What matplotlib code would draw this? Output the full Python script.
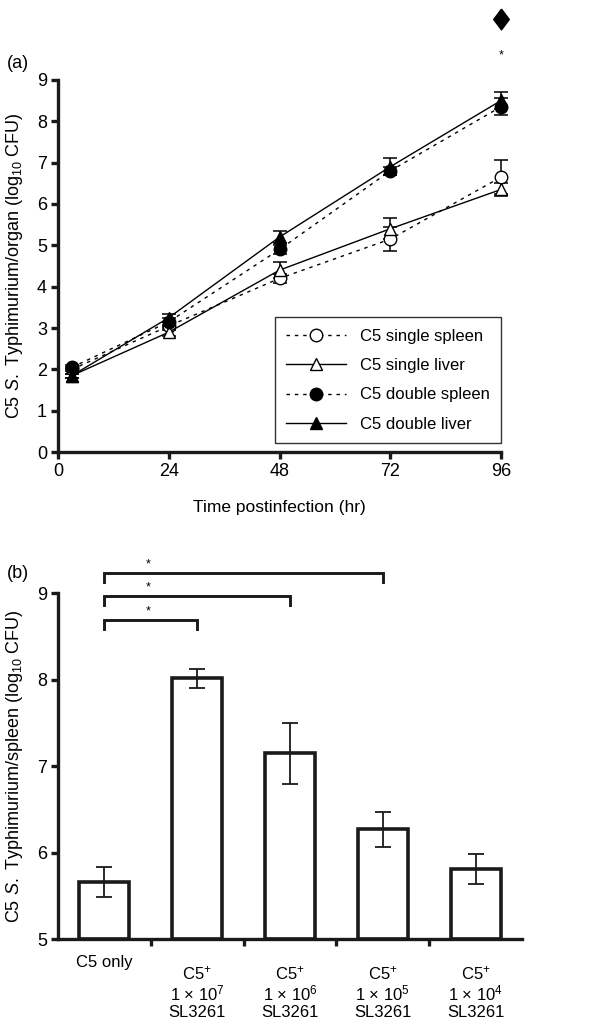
import numpy as np
import matplotlib.pyplot as plt
from matplotlib.transforms import blended_transform_factory

plt.rcParams['font.family'] = ['Liberation Sans', 'DejaVu Sans']
plt.rcParams['mathtext.fontset'] = 'custom'
plt.rcParams['mathtext.rm'] = 'Liberation Sans'
plt.rcParams['mathtext.it'] = 'Liberation Sans:italic'

# panel (a) data
hours = [3, 24, 48, 72, 96]
single_spleen = [2.0, 3.05, 4.2, 5.15, 6.65]
single_spleen_err = [0.05, 0.1, 0.1, 0.3, 0.4]
single_liver = [1.85, 2.9, 4.4, 5.4, 6.35]
single_liver_err = [0.05, 0.1, 0.2, 0.25, 0.15]
double_spleen = [2.05, 3.15, 4.9, 6.8, 8.35]
double_spleen_err = [0.05, 0.1, 0.1, 0.1, 0.2]
double_liver = [1.85, 3.25, 5.2, 6.9, 8.5]
double_liver_err = [0.05, 0.1, 0.15, 0.2, 0.2]

# panel (b) data
groups = ['C5 only',
          'C5$^{+}$\n1 $\\times$ 10$^{7}$\nSL3261',
          'C5$^{+}$\n1 $\\times$ 10$^{6}$\nSL3261',
          'C5$^{+}$\n1 $\\times$ 10$^{5}$\nSL3261',
          'C5$^{+}$\n1 $\\times$ 10$^{4}$\nSL3261']
spleen_cfu = [5.66, 8.02, 7.15, 6.27, 5.81]
spleen_err = [0.17, 0.11, 0.35, 0.2, 0.17]
brackets = [(0, 1, 8.69), (0, 2, 8.97), (0, 3, 9.23)]

fig = plt.figure(figsize=(5.98, 10.23), dpi=100)

# ---------- (a) ----------
ax1 = fig.add_axes([0.097, 0.558, 0.741, 0.364])
dot = (0, (2.5, 3.5))
series = [
    (single_spleen, single_spleen_err, 'o', 'white', dot, 'C5 single spleen'),
    (single_liver, single_liver_err, '^', 'white', '-', 'C5 single liver'),
    (double_spleen, double_spleen_err, 'o', 'black', dot, 'C5 double spleen'),
    (double_liver, double_liver_err, '^', 'black', '-', 'C5 double liver'),
]
for vals, err, m, fc, ls, lab in series:
    ax1.errorbar(hours, vals, yerr=err, fmt='none', ecolor='black',
                 elinewidth=1.1, capsize=5, capthick=1.1, clip_on=False, zorder=2)
    ax1.plot(hours, vals, color='black', linestyle=ls, linewidth=1.0,
             marker=m, markersize=9, markerfacecolor=fc, markeredgecolor='black',
             markeredgewidth=1.0, label=lab, clip_on=False, zorder=3)

diamond = [(0, 1), (0.75, 0), (0, -1), (-0.75, 0), (0, 1)]
ax1.plot([96], [10.46], marker=diamond, markersize=15, color='black',
         linestyle='none', clip_on=False)
ax1.text(96, 9.6, '*', ha='center', va='center', fontsize=9)

ax1.set_xlim(0, 96)
ax1.set_ylim(0, 9)
ax1.set_xticks([0, 24, 48, 72, 96])
ax1.set_yticks(range(10))
ax1.set_xlabel('Time postinfection (hr)', fontsize=12.5, labelpad=14)
ax1.set_ylabel('C5 $\\it{S.}$ Typhimurium/organ (log$_{10}$ CFU)', fontsize=13)
ax1.yaxis.set_label_coords(-0.074, 0.5)
ax1.text(-0.09, 1.045, '(a)', transform=ax1.transAxes, fontsize=13,
         ha='center', va='center')
leg = ax1.legend(loc='lower right', bbox_to_anchor=(1.0, 0.024), fontsize=12,
                 handlelength=3.6, labelspacing=0.85, borderaxespad=0,
                 fancybox=False, edgecolor='black', borderpad=0.7)
leg.get_frame().set_linewidth(1.0)

# ---------- (b) ----------
ax2 = fig.add_axes([0.097, 0.082, 0.776, 0.338])
x = np.arange(len(groups))
ax2.bar(x, [v - 5 for v in spleen_cfu], bottom=5, width=0.54, color='white',
        edgecolor='#1a1a1a', linewidth=2.6, zorder=2)
ax2.errorbar(x, spleen_cfu, yerr=spleen_err, fmt='none', ecolor='#1a1a1a',
             elinewidth=1.3, capsize=6, capthick=1.3, zorder=3)

for a, b, yb in brackets:
    ax2.plot([a, a, b, b], [yb - 0.1, yb, yb, yb - 0.1], color='#1a1a1a',
             linewidth=2.1, clip_on=False, solid_joinstyle='miter')
    ax2.text(0.47, yb + 0.1, '*', ha='center', va='center', fontsize=9)

ax2.set_xlim(-0.5, 4.5)
ax2.set_ylim(5, 9)
ax2.set_yticks([5, 6, 7, 8, 9])
ax2.set_xticks([0.5, 1.5, 2.5, 3.5])
ax2.set_xticklabels([])
ax2.set_ylabel('C5 $\\it{S.}$ Typhimurium/spleen (log$_{10}$ CFU)', fontsize=13)
ax2.yaxis.set_label_coords(-0.072, 0.5)
ax2.text(-0.086, 1.058, '(b)', transform=ax2.transAxes, fontsize=13,
         ha='center', va='center')
trans = blended_transform_factory(ax2.transData, ax2.transAxes)
for i, g in enumerate(groups):
    if i == 0:
        ax2.text(i, -0.069, g, transform=trans, ha='center', va='center', fontsize=12)
    else:
        ax2.text(i, -0.153, g, transform=trans, ha='center', va='center',
                 fontsize=12, linespacing=1.08)

for ax in (ax1, ax2):
    ax.spines['top'].set_visible(False)
    ax.spines['right'].set_visible(False)
    ax.spines['left'].set_linewidth(2.4)
    ax.spines['bottom'].set_linewidth(2.4)
    ax.spines['left'].set_color('#1a1a1a')
    ax.spines['bottom'].set_color('#1a1a1a')
    ax.tick_params(direction='out', length=5, width=2.4, color='#1a1a1a',
                   labelsize=13, pad=3)

fig.savefig('out.png', dpi=100)
